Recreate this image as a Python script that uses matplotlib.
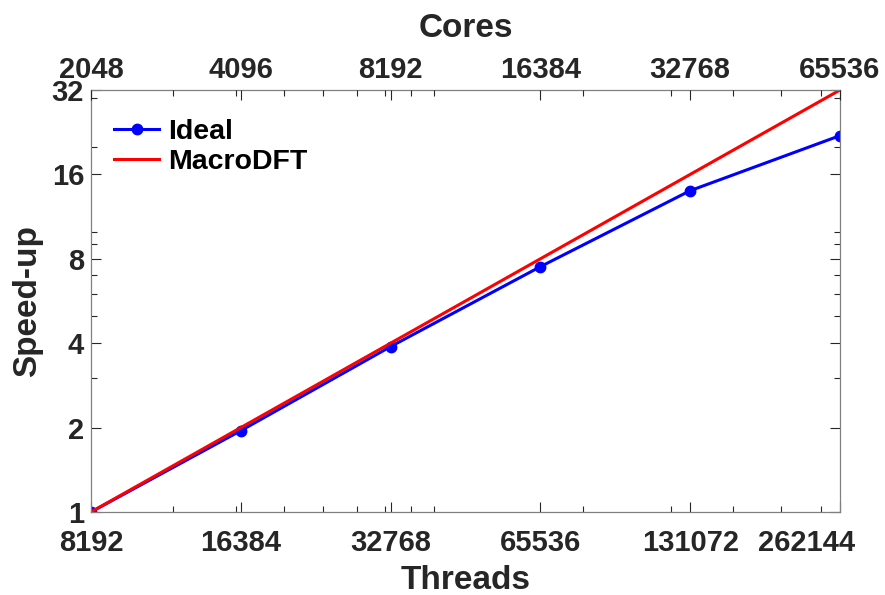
import numpy as np
import matplotlib
matplotlib.use("Agg")
import matplotlib.pyplot as plt
from matplotlib.ticker import FixedLocator, NullFormatter, LogLocator
from matplotlib.transforms import ScaledTranslation, blended_transform_factory

plt.rcParams['font.family'] = ['Liberation Sans', 'DejaVu Sans']
plt.rcParams['font.weight'] = 'bold'

threads = [8192, 16384, 32768, 65536, 131072, 262144]
cores = [2048, 4096, 8192, 16384, 32768, 65536]
measured = [1.0, 1.95, 3.89, 7.5, 14.0, 22.0]   # labelled "Ideal" in the reference
ideal = [1, 2, 4, 8, 16, 32]                      # labelled "MacroDFT" in the reference
yticks = [1, 2, 4, 8, 16, 32]

axc = '#262626'
fig = plt.figure(figsize=(8.85, 5.95), dpi=100)
ax = fig.add_axes([0.1028, 0.1395, 0.8463, 0.7092])

ax.plot(threads, measured, color='#0000ff', lw=2.2, marker='o', ms=7.5, label='Ideal')
ax.plot(threads, ideal, color='#ff0000', lw=2.2, label='MacroDFT')

ax.set_xscale('log', base=2)
ax.set_yscale('log', base=2)
ax.set_xlim(threads[0], threads[-1])
ax.set_ylim(yticks[0], yticks[-1])

ax.xaxis.set_major_locator(FixedLocator(threads))
labels = [str(t) for t in threads]
ax.set_xticklabels(labels[:-1] + [''])
ax.yaxis.set_major_locator(FixedLocator(yticks))
ax.set_yticklabels([str(v) for v in yticks])

# last bottom label shifted left to stay within the figure (as in reference)
trans = blended_transform_factory(ax.transData, ax.transAxes) + \
    ScaledTranslation(-0.33, -0.175, fig.dpi_scale_trans)
ax.text(threads[-1], 0, labels[-1], transform=trans, ha='center', va='top',
        fontsize=21, fontweight='bold', color=axc)

# minor ticks (MATLAB style, from cores axis decades)
minor_cores = np.outer([1e3, 1e4], np.arange(1, 10)).ravel()
minor_x = [c * 4 for c in minor_cores if threads[0] < c * 4 < threads[-1]]
ax.xaxis.set_minor_locator(FixedLocator(minor_x))
ax.xaxis.set_minor_formatter(NullFormatter())
ax.yaxis.set_minor_locator(LogLocator(base=10, subs=np.arange(1, 10)))
ax.yaxis.set_minor_formatter(NullFormatter())

ax.tick_params(which='both', direction='in', top=False, right=True, colors=axc,
               labelsize=21, width=0.8)
ax.tick_params(which='major', length=7)
ax.tick_params(which='minor', length=4)
ax.tick_params(axis='x', pad=12)
ax.tick_params(axis='y', pad=5)
for s in ax.spines.values():
    s.set_color('#808080')
    s.set_linewidth(0.9)

ax.set_xlabel('Threads', fontsize=24, fontweight='bold', color=axc, labelpad=6)
ax.set_ylabel('Speed-up', fontsize=24, fontweight='bold', color=axc, labelpad=6)

# top axis
ax2 = ax.twiny()
ax2.set_xscale('log', base=2)
ax2.set_xlim(ax.get_xlim())
ax2.xaxis.set_major_locator(FixedLocator(threads))
ax2.set_xticklabels([str(c) for c in cores])
ax2.xaxis.set_minor_locator(FixedLocator(minor_x))
ax2.xaxis.set_minor_formatter(NullFormatter())
ax2.tick_params(which='both', direction='in', colors=axc, labelsize=21, width=0.8)
ax2.tick_params(which='major', length=7)
ax2.tick_params(which='minor', length=4)
ax2.tick_params(axis='x', pad=4)
for s in ax2.spines.values():
    s.set_visible(False)
ax2.set_xlabel('Cores', fontsize=24, fontweight='bold', color=axc, labelpad=14)

leg = ax.legend(loc='upper left', frameon=False, fontsize=20.5, handlelength=1.6,
                handletextpad=0.3, borderaxespad=0.4, labelspacing=0.15,
                bbox_to_anchor=(0.0, 0.985))
for t in leg.get_texts():
    t.set_fontweight('bold')

fig.savefig('out.png', dpi=100)
